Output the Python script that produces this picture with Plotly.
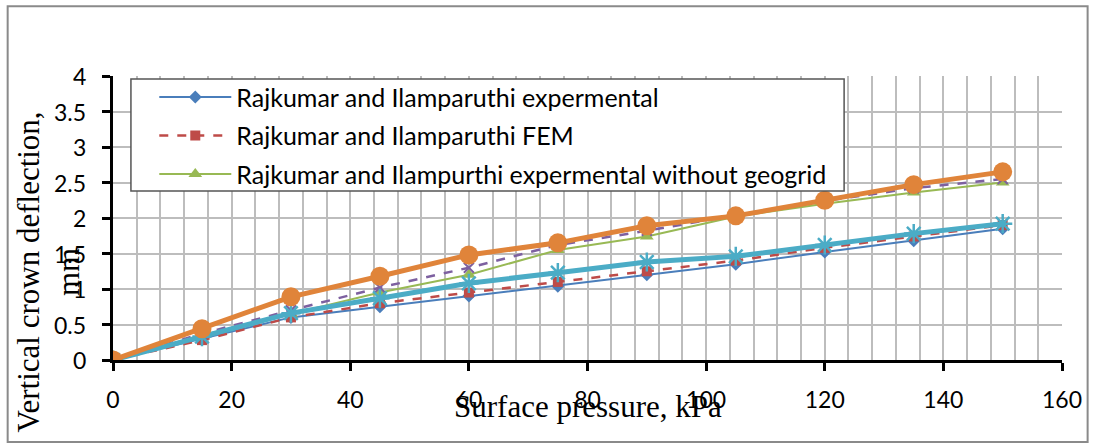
import plotly.graph_objects as go

# Surface pressure (kPa)
pressure = [0, 15, 30, 45, 60, 75, 90, 105, 120, 135, 150]

# Vertical crown deflection (mm) for each data set
rajkumar_exp = [0, 0.30, 0.60, 0.75, 0.90, 1.04, 1.20, 1.35, 1.52, 1.68, 1.85]
rajkumar_fem = [0, 0.28, 0.60, 0.80, 0.95, 1.10, 1.25, 1.40, 1.58, 1.74, 1.90]
rajkumar_no_geogrid = [0, 0.35, 0.65, 0.95, 1.20, 1.55, 1.74, 2.02, 2.20, 2.36, 2.50]
series_purple = [0, 0.37, 0.70, 1.02, 1.30, 1.62, 1.82, 2.04, 2.24, 2.42, 2.55]
series_teal = [0, 0.33, 0.66, 0.87, 1.08, 1.23, 1.38, 1.46, 1.62, 1.78, 1.92]
series_orange = [0, 0.44, 0.89, 1.18, 1.48, 1.65, 1.89, 2.03, 2.25, 2.47, 2.65]

# y-axis tick values and their labels
y_ticks = [0, 0.5, 1, 1.5, 2, 2.5, 3, 3.5, 4]
y_tick_labels = ["0", "0.5", "1", "1.5", "2", "2.5", "3", "3.5", "4"]

legend_names = [
    "Rajkumar and Ilamparuthi expermental",
    "Rajkumar and Ilamparuthi FEM",
    "Rajkumar and Ilampurthi expermental without geogrid",
]

fig = go.Figure()

fig.add_trace(go.Scatter(
    x=pressure, y=rajkumar_exp, name=legend_names[0], legendgroup="a",
    mode="lines+markers",
    line=dict(color="#4a7ebb", width=2),
    marker=dict(symbol="diamond", size=10, color="#4a7ebb"),
))
fig.add_trace(go.Scatter(
    x=pressure, y=rajkumar_fem, name=legend_names[1], legendgroup="b",
    mode="lines+markers",
    line=dict(color="#be4b48", width=2.5, dash="dash"),
    marker=dict(symbol="square", size=10, color="#be4b48"),
))
fig.add_trace(go.Scatter(
    x=pressure, y=rajkumar_no_geogrid, name=legend_names[2], legendgroup="c",
    mode="lines+markers",
    line=dict(color="#98b954", width=2),
    marker=dict(symbol="triangle-up", size=12, color="#98b954"),
))
fig.add_trace(go.Scatter(
    x=pressure, y=series_purple, showlegend=False,
    mode="lines+markers",
    line=dict(color="#7d60a0", width=2.5, dash="dash"),
    marker=dict(symbol="x-thin-open", size=10, color="#7d60a0",
                line=dict(width=2, color="#7d60a0")),
))
fig.add_trace(go.Scatter(
    x=pressure, y=series_teal, showlegend=False,
    mode="lines+markers",
    line=dict(color="#4bacc6", width=5),
    marker=dict(symbol="asterisk-open", size=16, color="#4bacc6",
                line=dict(width=2.5, color="#4bacc6")),
))
fig.add_trace(go.Scatter(
    x=pressure, y=series_orange, showlegend=False,
    mode="lines+markers",
    line=dict(color="#e0843a", width=5),
    marker=dict(symbol="circle", size=19, color="#e0843a"),
))

grid_col = "#bdbdbd"

fig.update_xaxes(
    range=[0, 160], dtick=20, tick0=0,
    showline=True, linecolor="black", linewidth=3,
    ticks="outside", ticklen=8, tickwidth=3, tickcolor="black",
    showgrid=True, gridcolor=grid_col, gridwidth=2,
    minor=dict(dtick=4, showgrid=True, gridcolor=grid_col, gridwidth=2),
    zeroline=False,
    tickfont=dict(family="Lato", size=23, color="black"),
    ticklabelstandoff=9,
)
fig.update_yaxes(
    range=[0, 4], tickvals=y_ticks,
    showline=True, linecolor="black", linewidth=3,
    ticks="outside", ticklen=8, tickwidth=3, tickcolor="black",
    showgrid=True, gridcolor=grid_col, gridwidth=2,
    zeroline=False, showticklabels=False,
)

# y tick labels, set a little further from the axis
for v, lab in zip(y_ticks, y_tick_labels):
    fig.add_annotation(
        text=lab, xref="paper", yref="y", x=-0.026, y=v,
        xanchor="right", yanchor="middle", showarrow=False,
        font=dict(family="Lato", size=23, color="black"),
    )

# legend frame (white box hides the lines behind it)
fig.add_shape(type="rect", xref="paper", yref="paper",
              x0=0.0189, x1=0.7704, y0=0.595, y1=0.9894,
              line=dict(color="#555555", width=1.5), fillcolor="white",
              layer="above")

# outer chart border
fig.add_shape(type="rect", xref="paper", yref="paper",
              x0=-0.111, x1=1.027, y0=-0.289, y1=1.246,
              line=dict(color="#8a8a8a", width=2), fillcolor="rgba(0,0,0,0)",
              layer="below")

fig.add_annotation(
    text="Surface pressure, kPa", xref="paper", yref="paper",
    x=0.5, y=-0.165, showarrow=False, xanchor="center", yanchor="middle",
    font=dict(family="Liberation Serif", size=31, color="black"),
)
fig.add_annotation(
    text="Vertical crown deflection,<br>mm", xref="paper", yref="paper",
    x=-0.068, y=0.31, showarrow=False, xanchor="center", yanchor="middle",
    textangle=-90,
    font=dict(family="Liberation Serif", size=31, color="black"),
)

fig.update_layout(
    width=1094, height=443,
    margin=dict(l=113, r=27, t=76, b=83),
    paper_bgcolor="white", plot_bgcolor="white",
    showlegend=True,
    legend=dict(
        x=0.0435, y=1.006, xanchor="left", yanchor="top",
        bgcolor="rgba(0,0,0,0)", borderwidth=0,
        font=dict(family="Lato", size=25, color="black"),
        itemwidth=72, tracegroupgap=3,
    ),
)

fig.write_html("out.html")
